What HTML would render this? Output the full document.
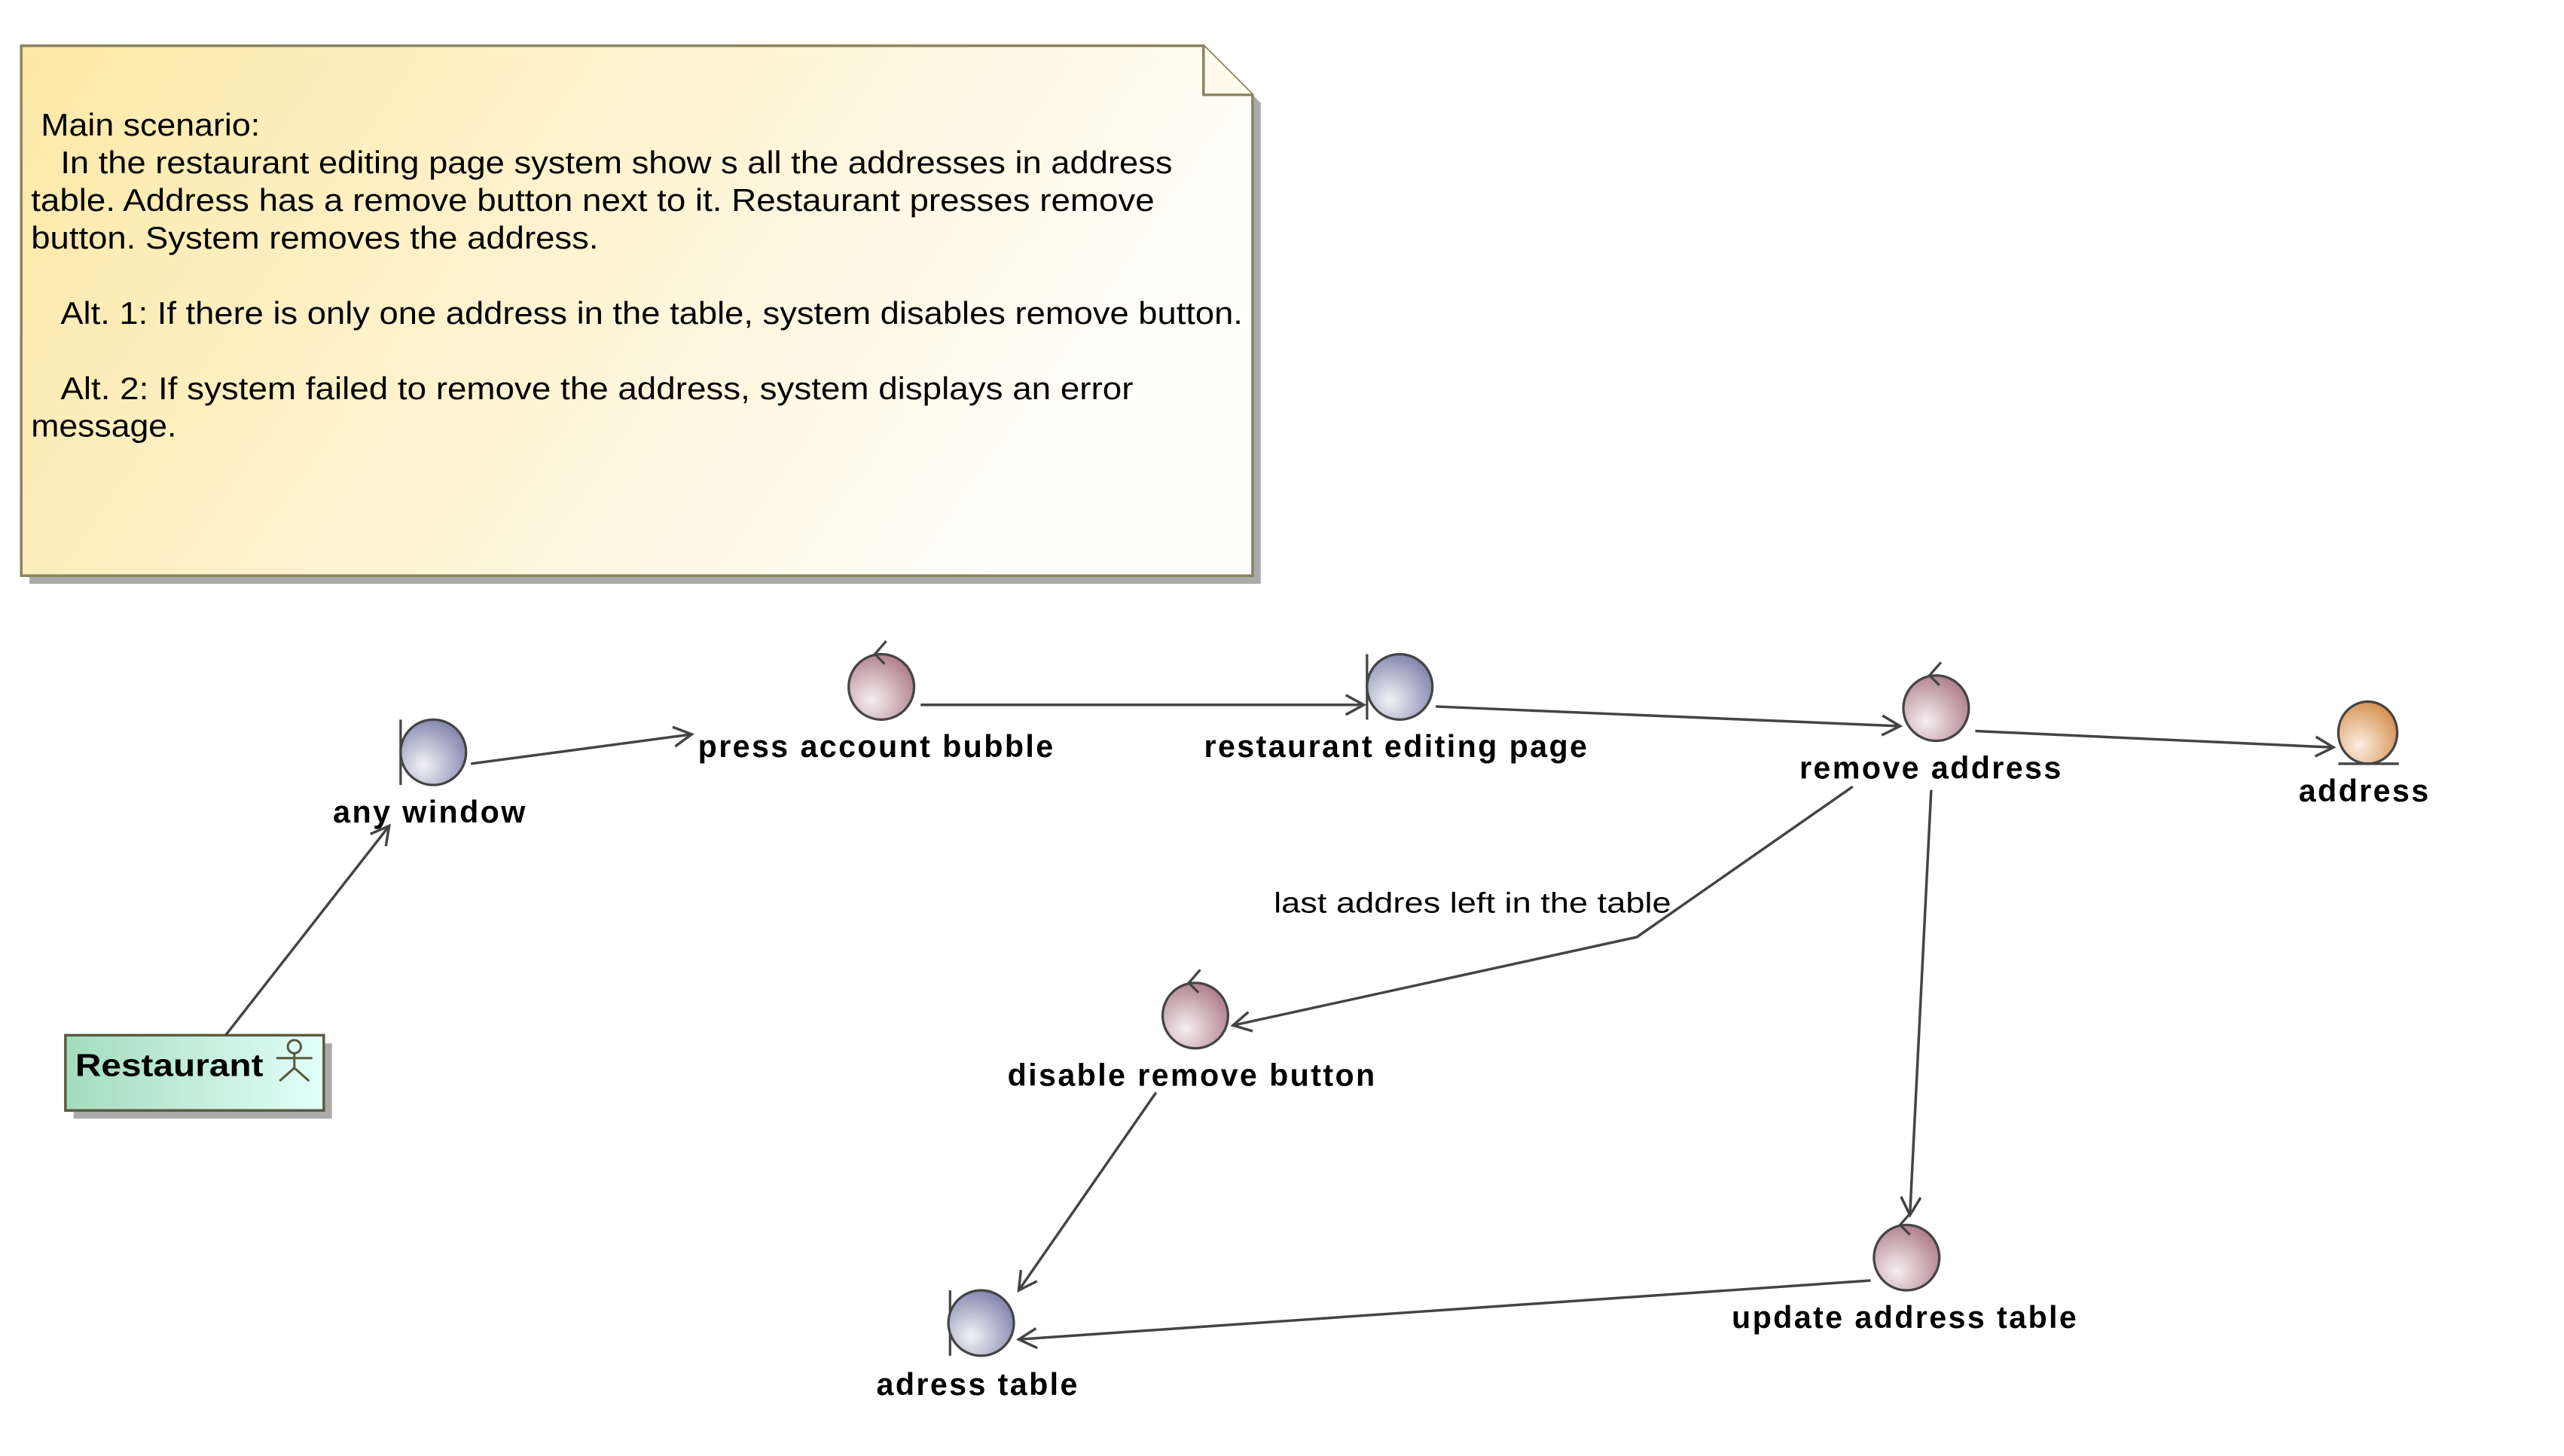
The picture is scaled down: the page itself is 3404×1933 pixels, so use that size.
<!DOCTYPE html>
<html><head><meta charset="utf-8"><style>
html,body{margin:0;padding:0;background:#fff;}
svg{display:block;}
text{font-family:"Liberation Sans",Arial,sans-serif;fill:#000;}
.lbl{font-weight:bold;font-size:19px;text-anchor:middle;letter-spacing:1.1px;}
.ln{stroke:#444;stroke-width:1.6;fill:none;}
</style></head><body>
<svg width="3404" height="1933" viewBox="0 0 1568 890.3" preserveAspectRatio="none" xmlns="http://www.w3.org/2000/svg">
<defs>
<linearGradient id="ng" x1="0" y1="0" x2="1" y2="0.3"><stop offset="0" stop-color="#fde8a6"/><stop offset="1" stop-color="#fffefa"/></linearGradient>
<linearGradient id="ag" x1="0" y1="0" x2="1" y2="0"><stop offset="0" stop-color="#a3dcbc"/><stop offset="1" stop-color="#e2fffa"/></linearGradient>
<radialGradient id="bg" cx="0.35" cy="0.7" r="0.75"><stop offset="0" stop-color="#f2f2f6"/><stop offset="1" stop-color="#7f83ab"/></radialGradient>
<radialGradient id="cg" cx="0.35" cy="0.7" r="0.75"><stop offset="0" stop-color="#f6eef0"/><stop offset="1" stop-color="#ad7d8a"/></radialGradient>
<radialGradient id="eg" cx="0.35" cy="0.7" r="0.75"><stop offset="0" stop-color="#fbeee2"/><stop offset="1" stop-color="#d68f4f"/></radialGradient>
<marker id="ar" markerWidth="14" markerHeight="14" refX="12" refY="7" orient="auto" markerUnits="userSpaceOnUse"><path d="M1,1 L12,7 L1,13" fill="none" stroke="#444" stroke-width="1.6"/></marker>
</defs>

<path d="M18,33 H741 L771,63 V357 H18 Z" fill="#aaa"/>
<path d="M13,28 H736 L766,58 V352 H13 Z" fill="url(#ng)" stroke="#8a8360" stroke-width="1.6"/>
<path d="M736,28 V58 H766" fill="#fffbea" stroke="#8a8360" stroke-width="1.6"/>
<g font-size="19">
<text x="25" y="83" textLength="134" lengthAdjust="spacingAndGlyphs">Main scenario:</text>
<text x="37" y="106" textLength="680" lengthAdjust="spacingAndGlyphs">In the restaurant editing page system show s all the addresses in address</text>
<text x="19" y="129" textLength="687" lengthAdjust="spacingAndGlyphs">table. Address has a remove button next to it. Restaurant presses remove</text>
<text x="19" y="152" textLength="347" lengthAdjust="spacingAndGlyphs">button. System removes the address.</text>
<text x="37" y="198" textLength="723" lengthAdjust="spacingAndGlyphs">Alt. 1: If there is only one address in the table, system disables remove button.</text>
<text x="37" y="244" textLength="656" lengthAdjust="spacingAndGlyphs">Alt. 2: If system failed to remove the address, system displays an error</text>
<text x="19" y="267" textLength="89" lengthAdjust="spacingAndGlyphs">message.</text>
</g>

<rect x="45" y="638" width="158" height="46" fill="#aaa"/>
<rect x="40" y="633" width="158" height="46" fill="url(#ag)" stroke="#5a5a40" stroke-width="1.6"/>
<text x="46" y="658" font-size="19" font-weight="bold" textLength="115" lengthAdjust="spacingAndGlyphs">Restaurant</text>
<g stroke="#555a3a" stroke-width="1.4" fill="none">
<circle cx="180" cy="640" r="4"/><line x1="180" y1="644" x2="180" y2="653"/><line x1="169" y1="647" x2="191" y2="647"/><line x1="180" y1="653" x2="171" y2="661"/><line x1="180" y1="653" x2="189" y2="661"/>
</g>

<line class="ln" x1="138" y1="633" x2="238" y2="505" marker-end="url(#ar)"/>
<line class="ln" x1="288" y1="467" x2="423" y2="449" marker-end="url(#ar)"/>
<line class="ln" x1="563" y1="431" x2="834" y2="431" marker-end="url(#ar)"/>
<line class="ln" x1="878" y1="432" x2="1162" y2="444" marker-end="url(#ar)"/>
<line class="ln" x1="1208" y1="447" x2="1427" y2="457" marker-end="url(#ar)"/>
<polyline class="ln" points="1133,481 1001,573 754,627" marker-end="url(#ar)"/>
<text x="779" y="558" font-size="17.5" textLength="243" lengthAdjust="spacingAndGlyphs">last addres left in the table</text>
<line class="ln" x1="1181" y1="483" x2="1168" y2="743" marker-end="url(#ar)"/>
<line class="ln" x1="707" y1="668" x2="623" y2="789" marker-end="url(#ar)"/>
<line class="ln" x1="1144" y1="783" x2="623" y2="819" marker-end="url(#ar)"/>

<g stroke="#444" stroke-width="1.5">
<line x1="245" y1="440" x2="245" y2="480"/><ellipse cx="265" cy="460" rx="20" ry="20" fill="url(#bg)"/>
<line x1="836" y1="400" x2="836" y2="440"/><ellipse cx="856" cy="420" rx="20" ry="20" fill="url(#bg)"/>
<line x1="581" y1="789" x2="581" y2="829"/><ellipse cx="600" cy="809" rx="20" ry="20" fill="url(#bg)"/>
</g>
<g stroke="#444" stroke-width="1.5">
<ellipse cx="539" cy="420" rx="20" ry="20" fill="url(#cg)"/><polyline points="542,392 535,400 541,406" fill="none"/>
<ellipse cx="1184" cy="433" rx="20" ry="20" fill="url(#cg)"/><polyline points="1187,405 1180,413 1186,419" fill="none"/>
<ellipse cx="731" cy="621" rx="20" ry="20" fill="url(#cg)"/><polyline points="734,593 727,601 733,607" fill="none"/>
<ellipse cx="1166" cy="769" rx="20" ry="20" fill="url(#cg)"/><polyline points="1169,741 1162,749 1168,755" fill="none"/>
</g>
<g stroke="#444" stroke-width="1.5">
<ellipse cx="1448" cy="448" rx="18" ry="19" fill="url(#eg)"/><line x1="1430" y1="467" x2="1467" y2="467"/>
</g>

<text class="lbl" x="263" y="503">any window</text>
<text class="lbl" x="536" y="463">press account bubble</text>
<text class="lbl" x="854" y="463">restaurant editing page</text>
<text class="lbl" x="1181" y="476">remove address</text>
<text class="lbl" x="1446" y="490">address</text>
<text class="lbl" x="729" y="664">disable remove button</text>
<text class="lbl" x="598" y="853">adress table</text>
<text class="lbl" x="1165" y="812">update address table</text>
</svg>
</body></html>
